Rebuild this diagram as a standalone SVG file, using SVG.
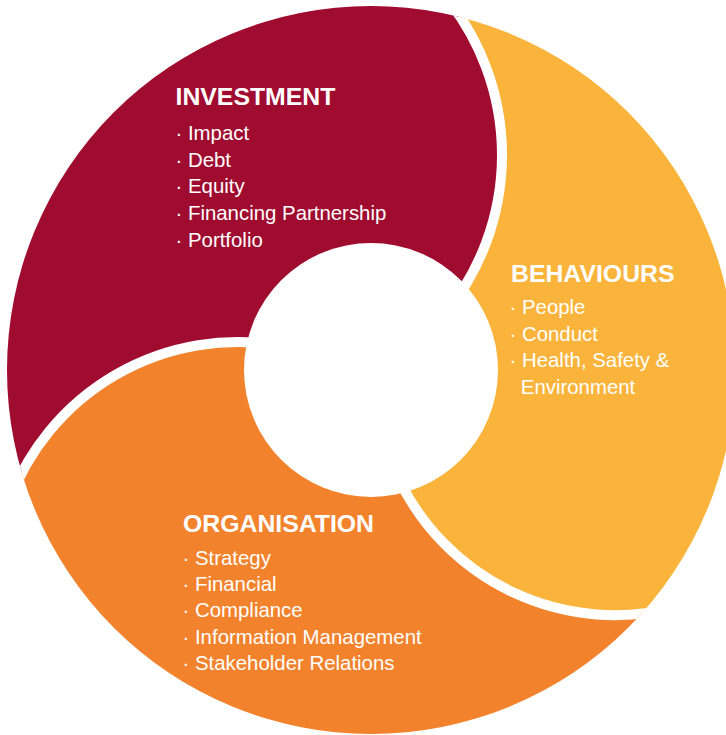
<svg xmlns="http://www.w3.org/2000/svg" width="726" height="735" viewBox="0 0 726 735">
<style>
.h{font-family:"Liberation Sans",Arial,sans-serif;font-weight:bold;font-size:24.8px;fill:#fff}
.t{font-family:"Liberation Sans",Arial,sans-serif;font-size:20.4px;fill:#fff}
.div{fill:none;stroke:#fff;stroke-width:10}
</style>
<defs>
<clipPath id="outer"><circle cx="371" cy="370" r="364"/></clipPath>
</defs>
<rect width="726" height="735" fill="#fff"/>
<g clip-path="url(#outer)">
<g id="organisation-shape">
<path fill="#F2822C" d="M8.7,502.5 A244,244 0 0 1 280.4,345.7 L397.5,476.4 A240,240 0 0 0 677,607 L760,607 L760,760 L-20,760 L-20,502.5 Z"/>
</g>
<g id="investment-shape">
<path fill="#A00B30" d="M443.5,-5.7 A250,250 0 0 1 443.5,315.7 L280.4,345.7 A244,244 0 0 0 8.7,502.5 L-20,502.5 L-20,-20 L443.5,-20 Z"/>
</g>
<g id="behaviours-shape">
<path fill="#FAB43B" d="M443.5,-5.7 A250,250 0 0 1 443.5,315.7 L397.5,476.4 A240,240 0 0 0 677,607 L760,607 L760,-20 L443.5,-20 Z"/>
</g>
<g id="dividers">
<path class="div" d="M443.5,-5.7 A250,250 0 0 1 443.5,315.7"/>
<path class="div" d="M280.4,345.7 A244,244 0 0 0 8.7,502.5"/>
<path class="div" d="M397.5,476.4 A240,240 0 0 0 677,607"/>
</g>
<circle id="hub" cx="371" cy="370" r="127" fill="#fff"/>
</g>
<g id="investment">
<text class="h" x="175.5" y="105">INVESTMENT</text>
<text class="t" x="175.5" y="140">· Impact</text>
<text class="t" x="175.5" y="166.7">· Debt</text>
<text class="t" x="175.5" y="193.3">· Equity</text>
<text class="t" x="175.5" y="220">· Financing Partnership</text>
<text class="t" x="175.5" y="246.5">· Portfolio</text>
</g>
<g id="behaviours">
<text class="h" x="511" y="282">BEHAVIOURS</text>
<text class="t" x="509.5" y="314.3">· People</text>
<text class="t" x="509.5" y="340.7">· Conduct</text>
<text class="t" x="509.5" y="367.3">· Health, Safety &amp;</text>
<text class="t" x="520.8" y="394">Environment</text>
</g>
<g id="organisation">
<text class="h" x="183" y="531.7">ORGANISATION</text>
<text class="t" x="182.5" y="565">· Strategy</text>
<text class="t" x="182.5" y="590.7">· Financial</text>
<text class="t" x="182.5" y="617.3">· Compliance</text>
<text class="t" x="182.5" y="644">· Information Management</text>
<text class="t" x="182.5" y="670">· Stakeholder Relations</text>
</g>
</svg>
